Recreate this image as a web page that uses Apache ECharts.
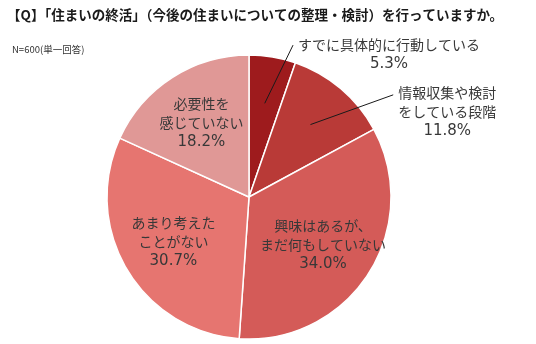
<!DOCTYPE html>
<html><head><meta charset="utf-8">
<script src="https://cdn.jsdelivr.net/npm/echarts@6/dist/echarts.min.js"></script>
<style>html,body{margin:0;padding:0;background:#fff}#c{width:536px;height:344px}</style>
</head><body><div id="c"></div>
<script>
const categories = ["すでに具体的に行動している", "情報収集や検討\nをしている段階", "興味はあるが、\nまだ何もしていない", "あまり考えた\nことがない", "必要性を\n感じていない"];
const values = [5.3, 11.8, 34.0, 30.7, 18.2];
const colors = ["#9e1b1d", "#b93a37", "#d45b58", "#e67570", "#e09896"];
const titleText = "【Q】「住まいの終活」（今後の住まいについての整理・検討）を行っていますか。";
const noteText = "N=600(単一回答)";

const FONT = '"Noto Sans CJK JP", "Noto Sans", sans-serif';
const fmt = p => p.name.split('\n').map(s => '{a|' + s + '}').join('\n') + '\n{b|' + p.value.toFixed(1) + '%}';
const rich = {
  a: { align: 'center', fontSize: 14, lineHeight: 19, color: '#383838', fontFamily: FONT },
  b: { align: 'center', fontSize: 15, lineHeight: 19, color: '#383838', fontFamily: '"DejaVu Sans", sans-serif' }
};
const outsideCfg = [{ len: 59, len2: 18.5, pad: 19 }, { len: 39, len2: 57.5, pad: 34 }];

const chart = echarts.init(document.getElementById('c'));
chart.setOption({
  backgroundColor: '#fff',
  animation: false,
  title: [
    { text: titleText, left: 2, top: 3, textStyle: { fontSize: 13.5, fontWeight: 'bold', color: '#1a1a1a', fontFamily: FONT } },
    { text: noteText, left: 7, top: 40, textStyle: { fontSize: 9.5, fontWeight: 'normal', color: '#333', fontFamily: FONT } }
  ],
  series: [
    {
      type: 'pie', z: 1, center: [249, 197], radius: 142, startAngle: 90, clockwise: true,
      label: { show: false }, labelLine: { show: false },
      itemStyle: { borderColor: '#fff', borderWidth: 1.5 },
      data: categories.map((c, i) => ({ name: c, value: values[i], itemStyle: { color: colors[i] } }))
    },
    {
      type: 'pie', z: 3, center: [249, 197], radius: 170, startAngle: 90, silent: true,
      avoidLabelOverlap: false,
      itemStyle: { color: 'rgba(0,0,0,0)' },
      label: { show: true, position: 'inside', formatter: fmt, rich: rich },
      labelLine: { show: false },
      data: categories.map((c, i) => ({ name: c, value: values[i], label: { show: i >= 2 } }))
    },
    {
      type: 'pie', z: 5, center: [249, 197], radius: 95, startAngle: 90, silent: true,
      avoidLabelOverlap: false,
      itemStyle: { color: 'rgba(0,0,0,0)' },
      label: { show: true, position: 'outside', formatter: fmt, rich: rich, distanceToLabelLine: 5 },
      labelLine: { show: true, lineStyle: { color: '#1a1a1a', width: 1 }, minTurnAngle: 0 },
      labelLayout: function (params) {
        const p = params.labelLinePoints;
        if (p && p.length === 3) return { labelLinePoints: [p[0], p[2], p[2]] };
        return {};
      },
      data: categories.map((c, i) => {
        const o = outsideCfg[i];
        return o ? { name: c, value: values[i], label: { show: true, padding: [o.pad, 0, 0, 0] }, labelLine: { show: true, length: o.len, length2: o.len2 } }
                 : { name: c, value: values[i], label: { show: false }, labelLine: { show: false } };
      })
    }
  ]
});
</script></body></html>
